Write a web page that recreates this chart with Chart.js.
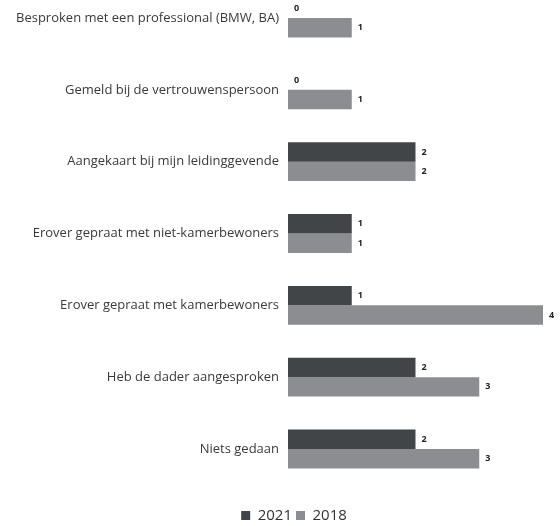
<!DOCTYPE html>
<html>
<head>
<meta charset="utf-8">
<script src="https://cdn.jsdelivr.net/npm/chart.js@4"></script>
<style>
  html, body { margin: 0; padding: 0; background: #fff; }
  #wrap { width: 560px; height: 526px; position: relative; }
</style>
</head>
<body>
<div id="wrap"><canvas id="actionsChart"></canvas></div>
<script>
const categories = [
  "Besproken met een professional (BMW, BA)",
  "Gemeld bij de vertrouwenspersoon",
  "Aangekaart bij mijn leidinggevende",
  "Erover gepraat met niet-kamerbewoners",
  "Erover gepraat met kamerbewoners",
  "Heb de dader aangesproken",
  "Niets gedaan"
];
const values2021 = [0, 0, 2, 1, 1, 2, 2];
const values2018 = [1, 1, 2, 1, 4, 3, 3];
const seriesNames = ["2021", "2018"];

// small value labels at the end of each bar
const barValueLabels = {
  id: "barValueLabels",
  afterDatasetsDraw(chart) {
    const ctx = chart.ctx;
    ctx.save();
    ctx.font = "bold 9px 'Open Sans'";
    ctx.fillStyle = "#222";
    ctx.textAlign = "left";
    ctx.textBaseline = "middle";
    chart.data.datasets.forEach((ds, i) => {
      chart.getDatasetMeta(i).data.forEach((bar, j) => {
        ctx.fillText(String(ds.data[j]), bar.x + 6, bar.y);
      });
    });
    ctx.restore();
  },
};

// the legend sits a bit right of the canvas centre in the original
const legendShift = {
  id: "legendShift",
  afterLayout(chart) {
    if (chart.legend) {
      chart.legend.left += 20;
      chart.legend.right += 20;
    }
  },
};

document.addEventListener("DOMContentLoaded", function () {
  const ctx = document.getElementById("actionsChart").getContext("2d");
  new Chart(ctx, {
    type: "bar",
    data: {
      labels: categories,
      datasets: [
        {
          label: seriesNames[0],
          data: values2021,
          backgroundColor: "#424548",
          categoryPercentage: 0.54,
          barPercentage: 1,
          clip: false,
        },
        {
          label: seriesNames[1],
          data: values2018,
          backgroundColor: "#8b8d91",
          categoryPercentage: 0.54,
          barPercentage: 1,
          clip: false,
        },
      ],
    },
    options: {
      indexAxis: "y",
      responsive: true,
      maintainAspectRatio: false,
      animation: false,
      layout: {
        padding: { left: 5, right: 17, top: 18, bottom: -7 },
      },
      plugins: {
        legend: {
          position: "bottom",
          labels: {
            boxWidth: 9,
            boxHeight: 9,
            padding: 4,
            color: "#333",
            font: { family: "'Open Sans'", size: 15 },
          },
        },
        tooltip: { enabled: false },
      },
      scales: {
        x: {
          min: 0,
          max: 4,
          grid: { display: false, drawTicks: false },
          border: { display: false },
          ticks: { display: false },
          afterFit: function (scale) {
            scale.height = 55;
          },
        },
        y: {
          offset: false,
          grid: { display: false, drawTicks: false },
          border: { display: false },
          ticks: {
            padding: 9,
            color: "#3a3a3a",
            font: { family: "'Open Sans'", size: 13 },
          },
          afterFit: function (scale) {
            scale.width = 283;
          },
        },
      },
    },
    plugins: [barValueLabels, legendShift],
  });
});
</script>
</body>
</html>
